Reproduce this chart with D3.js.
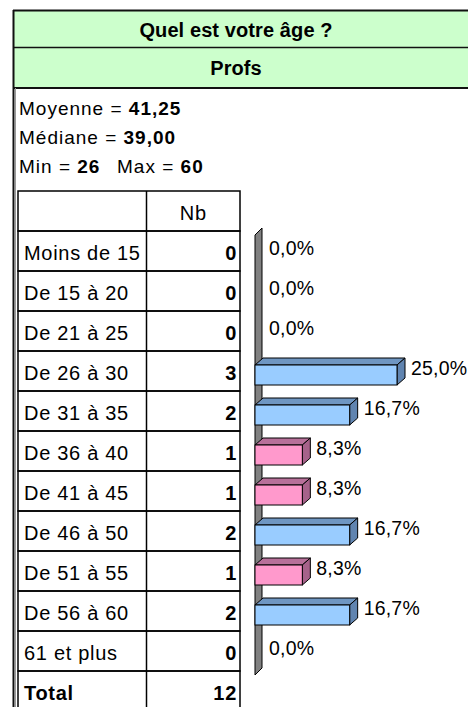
<!DOCTYPE html>
<html>
<head>
<meta charset="utf-8">
<script src="https://cdn.jsdelivr.net/npm/d3@7.9.0/dist/d3.min.js"></script>
<style>
  body { margin: 0; background: #fff; overflow: hidden; }
  svg { display: block; font-family: "Liberation Sans", Arial, sans-serif; }
</style>
</head>
<body>
<svg id="chart" width="468" height="707"></svg>
<script>
const title = 'Quel est votre âge ?';
const subtitle = 'Profs';
const meanAge = '41,25';
const medianAge = '39,00';
const minAge = '26';
const maxAge = '60';

const categories = ['Moins de 15', 'De 15 à 20', 'De 21 à 25', 'De 26 à 30', 'De 31 à 35',
  'De 36 à 40', 'De 41 à 45', 'De 46 à 50', 'De 51 à 55', 'De 56 à 60', '61 et plus'];
const counts = [0, 0, 0, 3, 2, 1, 1, 2, 1, 2, 0];
const countHeader = 'Nb';
const totalLabel = 'Total';

const total = d3.sum(counts);
const rows = categories.map((c, i) => ({ cat: c, n: counts[i], pct: counts[i] / total }));
const fmtPct = (v) => d3.format('.1%')(v).replace('.', ',');

const svg = d3.select('#chart');

// header band
svg.append('rect').attr('x', 13).attr('y', 10).attr('width', 460).attr('height', 78)
  .attr('fill', '#ccffcc');
svg.append('line').attr('x1', 13).attr('x2', 468).attr('y1', 10.5).attr('y2', 10.5)
  .attr('stroke', '#111').attr('stroke-width', 2);
svg.append('line').attr('x1', 13).attr('x2', 468).attr('y1', 47.5).attr('y2', 47.5)
  .attr('stroke', '#111').attr('stroke-width', 1.5);
svg.append('line').attr('x1', 13).attr('x2', 468).attr('y1', 88).attr('y2', 88)
  .attr('stroke', '#111').attr('stroke-width', 2);
svg.append('line').attr('x1', 13.5).attr('x2', 13.5).attr('y1', 10).attr('y2', 707)
  .attr('stroke', '#111').attr('stroke-width', 2);
svg.append('line').attr('x1', 15.5).attr('x2', 15.5).attr('y1', 88).attr('y2', 707)
  .attr('stroke', '#999').attr('stroke-width', 1);

const headText = svg.append('g').attr('font-weight', 'bold').attr('font-size', 20)
  .attr('letter-spacing', 0.1).attr('text-anchor', 'middle');
headText.append('text').attr('x', 236).attr('y', 37).text(title);
headText.append('text').attr('x', 236).attr('y', 75).text(subtitle);

// stats
const st = svg.append('g').attr('font-size', 19).attr('letter-spacing', 1);
const line1 = st.append('text').attr('x', 19).attr('y', 115);
line1.append('tspan').text('Moyenne = ');
line1.append('tspan').attr('font-weight', 'bold').text(meanAge);
const line2 = st.append('text').attr('x', 19).attr('y', 144);
line2.append('tspan').text('Médiane = ');
line2.append('tspan').attr('font-weight', 'bold').text(medianAge);
const line3 = st.append('text').attr('x', 19).attr('y', 173);
line3.append('tspan').text('Min = ');
line3.append('tspan').attr('font-weight', 'bold').text(minAge);
const line4 = st.append('text').attr('x', 117).attr('y', 173);
line4.append('tspan').text('Max = ');
line4.append('tspan').attr('font-weight', 'bold').text(maxAge);

// table
const tx0 = 18, tx1 = 146.5, tx2 = 240, ty0 = 191, rowH = 40;
const tableRows = [{ cat: '', n: countHeader, head: true }, ...rows,
  { cat: totalLabel, n: total, tot: true }];
const tRow = d3.scaleBand().domain(d3.range(tableRows.length))
  .range([ty0, ty0 + rowH * tableRows.length]);

const tg = svg.append('g').attr('font-size', 20).attr('letter-spacing', 0.7);
tableRows.forEach((r, i) => {
  const y = tRow(i);
  tg.append('rect').attr('x', tx0).attr('y', y).attr('width', tx2 - tx0).attr('height', rowH)
    .attr('fill', 'none').attr('stroke', '#000').attr('stroke-width', 1.5);
  tg.append('line').attr('x1', tx1).attr('x2', tx1).attr('y1', y).attr('y2', y + rowH)
    .attr('stroke', '#000').attr('stroke-width', 1.5);
  tg.append('text').attr('x', tx0 + 6).attr('y', y + 29)
    .attr('font-weight', r.tot ? 'bold' : null).text(r.cat);
  tg.append('text')
    .attr('x', r.head ? (tx1 + tx2) / 2 : tx2 - 3)
    .attr('y', y + 29)
    .attr('text-anchor', r.head ? 'middle' : 'end')
    .attr('font-weight', r.head ? null : 'bold')
    .text(r.n);
});

// 3D bar chart
const x = d3.scaleLinear().domain([0, 0.25]).range([255, 397]);
const y = d3.scaleBand().domain(categories).range([235, 675])
  .paddingInner(0.5).paddingOuter(0.25);
const dx = 8, dy = -7;
const colorFront = d3.scaleThreshold().domain([2]).range(['#ff99cc', '#99ccff']);
const colorTop = d3.scaleThreshold().domain([2]).range(['#b8709a', '#6f96c2']);
const colorSide = d3.scaleThreshold().domain([2]).range(['#a6628a', '#6084b0']);

const chart = svg.append('g');
const wx = x(0);
chart.append('path')
  .attr('d', `M${wx},235 L${wx + 7},228 L${wx + 7},668 L${wx},675 Z`)
  .attr('fill', '#808080').attr('stroke', '#000').attr('stroke-width', 1);

const bars = chart.selectAll('g.bar').data(rows.filter((d) => d.n > 0)).join('g').attr('class', 'bar');
bars.append('path')
  .attr('d', (d) => {
    const x0 = x(0), x1 = x(d.pct), y0 = y(d.cat);
    return `M${x0},${y0} L${x0 + dx},${y0 + dy} L${x1 + dx},${y0 + dy} L${x1},${y0} Z`;
  })
  .attr('fill', (d) => colorTop(d.n)).attr('stroke', '#000').attr('stroke-width', 1);
bars.append('path')
  .attr('d', (d) => {
    const x1 = x(d.pct), y0 = y(d.cat), h = y.bandwidth();
    return `M${x1},${y0} L${x1 + dx},${y0 + dy} L${x1 + dx},${y0 + dy + h} L${x1},${y0 + h} Z`;
  })
  .attr('fill', (d) => colorSide(d.n)).attr('stroke', '#000').attr('stroke-width', 1);
bars.append('rect')
  .attr('x', x(0)).attr('y', (d) => y(d.cat))
  .attr('width', (d) => x(d.pct) - x(0)).attr('height', y.bandwidth())
  .attr('fill', (d) => colorFront(d.n)).attr('stroke', '#000').attr('stroke-width', 1);

chart.selectAll('text.lbl').data(rows).join('text').attr('class', 'lbl')
  .attr('x', (d) => x(d.pct) + 14)
  .attr('y', (d) => y(d.cat) + y.bandwidth() / 2)
  .attr('font-size', 19.5).attr('letter-spacing', 0.2)
  .text((d) => fmtPct(d.pct));
</script>
</body>
</html>
